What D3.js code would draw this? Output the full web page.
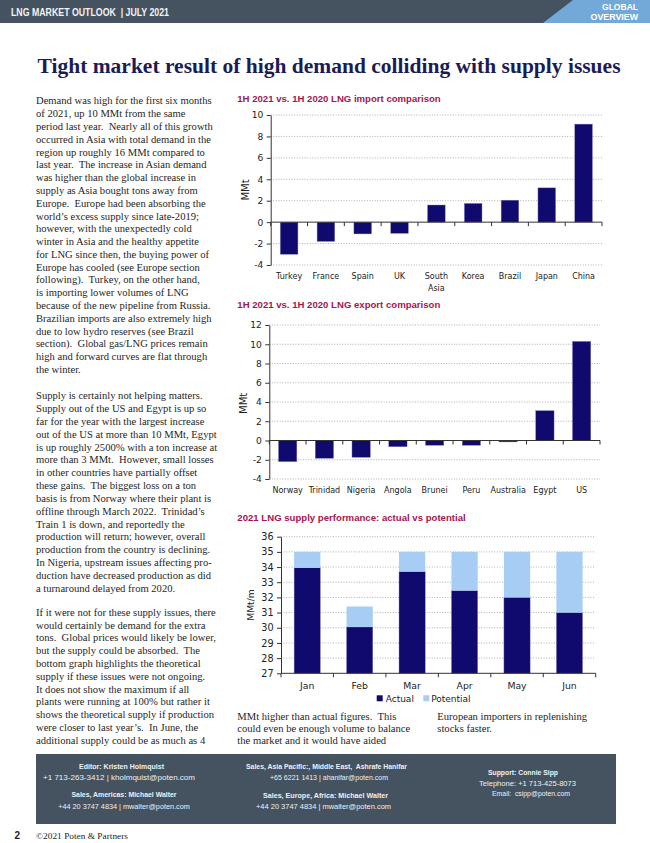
<!DOCTYPE html>
<html><head><meta charset="utf-8">
<script src="https://cdn.jsdelivr.net/npm/d3@7"></script>
<style>body{margin:0;background:#fff}svg{display:block}</style>
</head><body>
<svg id="page" width="650" height="843"></svg>
<script>
// ---------- DATA ----------
const importCats = ["Turkey","France","Spain","UK","South Asia","Korea","Brazil","Japan","China"];
const importVals = [-3.0,-1.8,-1.1,-1.05,1.6,1.75,2.05,3.2,9.15];
const importTicks = [-4,-2,0,2,4,6,8,10];

const exportCats = ["Norway","Trinidad","Nigeria","Angola","Brunei","Peru","Australia","Egypt","US"];
const exportVals = [-2.2,-1.85,-1.75,-0.65,-0.5,-0.5,-0.15,3.1,10.3];
const exportTicks = [-4,-2,0,2,4,6,8,10,12];

const months = ["Jan","Feb","Mar","Apr","May","Jun"];
const actual = [33.95,30.05,33.7,32.45,32.0,31.0];
const potential = [1.05,1.35,1.3,2.55,3.0,4.0];
const supplyTicks = [27,28,29,30,31,32,33,34,35,36];

const para1 = ["Demand was high for the first six months","of 2021, up 10 MMt from the same","period last year.  Nearly all of this growth","occurred in Asia with total demand in the","region up roughly 16 MMt compared to","last year.  The increase in Asian demand","was higher than the global increase in","supply as Asia bought tons away from","Europe.  Europe had been absorbing the","world\u2019s excess supply since late-2019;","however, with the unexpectedly cold","winter in Asia and the healthy appetite","for LNG since then, the buying power of","Europe has cooled (see Europe section","following).  Turkey, on the other hand,","is importing lower volumes of LNG","because of the new pipeline from Russia.","Brazilian imports are also extremely high","due to low hydro reserves (see Brazil","section).  Global gas/LNG prices remain","high and forward curves are flat through","the winter."];
const para2 = ["Supply is certainly not helping matters.","Supply out of the US and Egypt is up so","far for the year with the largest increase","out of the US at more than 10 MMt, Egypt","is up roughly 2500% with a ton increase at","more than 3 MMt.  However, small losses","in other countries have partially offset","these gains.  The biggest loss on a ton","basis is from Norway where their plant is","offline through March 2022.  Trinidad\u2019s","Train 1 is down, and reportedly the","production will return; however, overall","production from the country is declining.","In Nigeria, upstream issues affecting pro-","duction have decreased production as did","a turnaround delayed from 2020."];
const para3 = ["If it were not for these supply issues, there","would certainly be demand for the extra","tons.  Global prices would likely be lower,","but the supply could be absorbed.  The","bottom graph highlights the theoretical","supply if these issues were not ongoing.","It does not show the maximum if all","plants were running at 100% but rather it","shows the theoretical supply if production","were closer to last year\u2019s.  In June, the","additional supply could be as much as 4"];
const para4 = ["MMt higher than actual figures.  This","could even be enough volume to balance","the market and it would have aided"];
const para5 = ["European importers in replenishing","stocks faster."];

// ---------- STYLE ----------
const NAVY = "#110a6e", LIGHT = "#a7cdf5", SLATE = "#44535f", CRIMSON = "#a3174f";
const SANS = "'DejaVu Sans', Verdana, sans-serif";
const SERIF = "'Liberation Serif', 'Times New Roman', serif";
const HSANS = "'Liberation Sans', Arial, sans-serif";

const svg = d3.select("#page");

// Header
svg.append("rect").attr("x",0).attr("y",0).attr("width",650).attr("height",23).attr("fill",SLATE);
svg.append("polygon").attr("points","543,23 573,0 650,0 650,23").attr("fill","#72a9d8");
svg.append("text").attr("x",11).attr("y",16).attr("fill","#f2f4f6")
  .attr("font-family",HSANS).attr("font-weight","bold").attr("font-size",10)
  .attr("textLength",158).attr("lengthAdjust","spacingAndGlyphs")
  .style("white-space","pre").text("LNG MARKET OUTLOOK  | JULY 2021");
svg.append("text").attr("x",638).attr("y",10).attr("text-anchor","end").attr("fill","#fff")
  .attr("font-family",HSANS).attr("font-weight","bold").attr("font-size",9.5)
  .attr("textLength",36).attr("lengthAdjust","spacingAndGlyphs").text("GLOBAL");
svg.append("text").attr("x",638).attr("y",20).attr("text-anchor","end").attr("fill","#fff")
  .attr("font-family",HSANS).attr("font-weight","bold").attr("font-size",9.5)
  .attr("textLength",47.5).attr("lengthAdjust","spacingAndGlyphs").text("OVERVIEW");

// Title
svg.append("text").attr("x",37.5).attr("y",73).attr("fill","#1c1c55")
  .attr("font-family",SERIF).attr("font-weight","bold").attr("font-size",21.5)
  .attr("textLength",583).attr("lengthAdjust","spacingAndGlyphs")
  .text("Tight market result of high demand colliding with supply issues");

// Body text
function para(lines, x, y0, lh){
  svg.append("g").selectAll("text").data(lines).join("text")
    .attr("x",x).attr("y",(d,i)=>y0+i*lh)
    .attr("font-family",SERIF).attr("font-size",10.6).attr("fill","#262626")
    .style("white-space","pre").text(d=>d);
}
para(para1, 36, 104.4, 12.79);
para(para2, 36, 399.3, 12.82);
para(para3, 36, 615.9, 12.77);
para(para4, 237.3, 719.6, 12.1);
para(para5, 437.3, 719.6, 12.1);

// ---------- CHART HELPERS ----------
function chartTitle(txt, y, w){
  svg.append("text").attr("x",237.3).attr("y",y).attr("fill",CRIMSON)
    .attr("font-family",HSANS).attr("font-weight","bold").attr("font-size",9.5)
    .attr("textLength",w).attr("lengthAdjust","spacingAndGlyphs").text(txt);
}

function yAxisAndGrid(g, y, ticks, x0, x1, fs, skipGridAt){
  ticks.forEach(t=>{
    if (t===skipGridAt) return;
    g.append("line").attr("x1",x0).attr("x2",x1).attr("y1",y(t)).attr("y2",y(t))
      .attr("stroke","#9a9a9a").attr("stroke-width",0.8).attr("stroke-dasharray","1,1.6");
  });
  const ax = g.append("g").attr("transform",`translate(${x0},0)`)
    .call(d3.axisLeft(y).tickValues(ticks).tickSize(4).tickSizeOuter(0).tickPadding(3.4).tickFormat(d=>String(d)));
  ax.select(".domain").attr("stroke","#333");
  ax.selectAll(".tick line").attr("stroke","#333");
  ax.selectAll(".tick text").attr("font-family",SANS).attr("font-size",fs).attr("fill","#222");
}

function catTicks(g, x, yLine, n){
  const r0 = x.range()[0];
  g.append("line").attr("x1",x.range()[0]).attr("x2",x.range()[1]).attr("y1",yLine).attr("y2",yLine)
    .attr("stroke","#333").attr("stroke-width",1);
  g.selectAll(".ctick").data(d3.range(n+1)).join("line").attr("class","ctick")
    .attr("x1",i=>r0+i*x.step()).attr("x2",i=>r0+i*x.step())
    .attr("y1",yLine).attr("y2",yLine+4).attr("stroke","#333");
}

function catLabels(g, x, cats, yBase, fs){
  cats.forEach(c=>{
    const lines = c.indexOf(" ")>0 ? c.split(" ") : [c];
    const t = g.append("text").attr("text-anchor","middle")
      .attr("font-family",SANS).attr("font-size",fs).attr("fill","#222");
    lines.forEach((l,i)=>t.append("tspan").attr("x",x(c)+x.bandwidth()/2).attr("y",yBase+i*11.5).text(l));
  });
}

function yLabel(txt, x, y, fs){
  svg.append("text").attr("transform",`translate(${x},${y}) rotate(-90)`).attr("text-anchor","middle")
    .attr("dy","0.35em").attr("font-family",SANS).attr("font-size",fs).attr("fill","#222").text(txt);
}

function divergingChart(cats, vals, ticks, x0, x1, yTop, yBot, labelY, pad){
  const g = svg.append("g");
  const y = d3.scaleLinear().domain([ticks[0], ticks[ticks.length-1]]).range([yBot, yTop]);
  const x = d3.scaleBand().domain(cats).range([x0,x1]).paddingInner(pad).paddingOuter(pad/2);
  yAxisAndGrid(g, y, ticks, x0, x1, 9.1, 0);
  g.selectAll(".bar").data(cats).join("rect").attr("class","bar")
    .attr("x",c=>x(c)).attr("width",x.bandwidth())
    .attr("y",(c,i)=>y(Math.max(0,vals[i]))).attr("height",(c,i)=>Math.abs(y(vals[i])-y(0)))
    .attr("fill",NAVY).attr("stroke","#8a86c4").attr("stroke-width",0.4);
  catTicks(g, x, y(0), cats.length);
  catLabels(g, x, cats, labelY, 8);
}

// Chart 1
chartTitle("1H 2021 vs. 1H 2020 LNG import comparison", 101.8, 203.4);
divergingChart(importCats, importVals, importTicks, 270.7, 602, 115, 265, 279, 0.52);
yLabel("MMt", 245, 190, 10);

// Chart 2
chartTitle("1H 2021 vs. 1H 2020 LNG export comparison", 307.5, 203);
divergingChart(exportCats, exportVals, exportTicks, 269.3, 600, 325, 479, 493.2, 0.5);
yLabel("MMt", 243.5, 403.3, 10);

// Chart 3
chartTitle("2021 LNG supply performance: actual vs potential", 520.5, 228.4);
(function(){
  const g = svg.append("g");
  const x0 = 281, x1 = 595.7;
  const y = d3.scaleLinear().domain([27,36]).range([673.3,536.7]);
  const x = d3.scaleBand().domain(months).range([x0,x1]).paddingInner(0.5).paddingOuter(0.25);
  yAxisAndGrid(g, y, supplyTicks, x0, x1, 9.7, 27);
  const rows = months.map((m,i)=>({month:m, Actual:actual[i]-27, Potential:potential[i]}));
  const stack = d3.stack().keys(["Actual","Potential"])(rows);
  const colors = {Actual:NAVY, Potential:LIGHT};
  stack.forEach(s=>{
    g.selectAll(null).data(s).join("rect")
      .attr("x",d=>x(d.data.month)).attr("width",x.bandwidth())
      .attr("y",d=>y(27+d[1])).attr("height",d=>y(27+d[0])-y(27+d[1]))
      .attr("fill",colors[s.key]).attr("stroke", s.key==="Actual" ? "#8a86c4" : "none").attr("stroke-width",0.4);
  });
  catTicks(g, x, y(27), months.length);
  catLabels(g, x, months, 688.6, 9.3);
  // legend
  const lg = svg.append("g");
  [["Actual",NAVY,376.7,385.7],["Potential",LIGHT,423.3,431.2]].forEach(([k,c,sx,tx])=>{
    lg.append("rect").attr("x",sx).attr("y",695.3).attr("width",6).attr("height",6).attr("fill",c);
    lg.append("text").attr("x",tx).attr("y",701.6).attr("font-family",SANS).attr("font-size",9)
      .attr("fill","#222").text(k);
  });
})();
yLabel("MMt/m", 250.7, 605, 9.2);

// Footer
svg.append("rect").attr("x",36).attr("y",754).attr("width",580).attr("height",70).attr("fill",SLATE);
const footer = [
  ["Editor: Kristen Holmquist",121.5,768.5,85,true],
  ["+1 713-263-3412 | kholmquist@poten.com",119,779.6,152,false],
  ["Sales, Americas: Michael Walter",124,797.1,105,true],
  ["+44 20 3747 4834 | mwalter@poten.com",124,808.5,131.7,false],
  ["Sales, Asia Pacific:, Middle East,  Ashrafe Hanifar",326.5,768.5,161,true],
  ["+65 6221 1413 | ahanifar@poten.com",329,779.6,118,false],
  ["Sales, Europe, Africa: Michael Walter",325.5,797.8,125,true],
  ["+44 20 3747 4834 | mwalter@poten.com",323.5,808.5,135,false],
  ["Support: Connie Sipp",523,774.8,70,true],
  ["Telephone: +1 713-425-8073",527.5,786.3,97,false],
  ["Email:  csipp@poten.com",531,796.4,78,false]
];
svg.append("g").selectAll("text").data(footer).join("text")
  .attr("x",d=>d[1]).attr("y",d=>d[2]).attr("text-anchor","middle")
  .attr("font-family",HSANS).attr("font-size",8).attr("font-weight",d=>d[4]?"bold":"normal")
  .attr("fill","#eef1f4").attr("textLength",d=>d[3]).attr("lengthAdjust","spacingAndGlyphs")
  .style("white-space","pre").text(d=>d[0]);

svg.append("text").attr("x",14.5).attr("y",839.3).attr("font-family",HSANS).attr("font-weight","bold")
  .attr("font-size",10).attr("fill","#222").text("2");
svg.append("text").attr("x",36).attr("y",839).attr("font-family",SERIF).attr("font-size",9)
  .attr("fill","#222").attr("textLength",92).attr("lengthAdjust","spacingAndGlyphs").text("\u00a92021 Poten & Partners");
</script>
</body></html>
